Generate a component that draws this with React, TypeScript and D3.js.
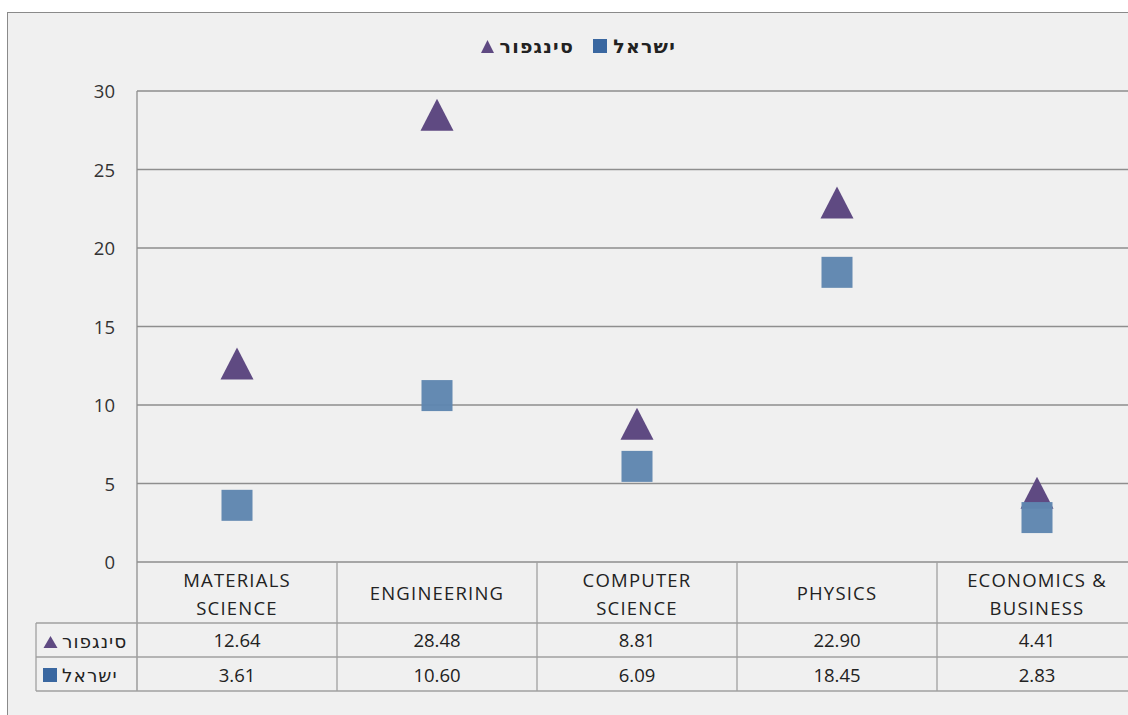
import React from "react";
import * as d3 from "d3";

const categories = [["MATERIALS", "SCIENCE"], ["ENGINEERING"], ["COMPUTER", "SCIENCE"], ["PHYSICS"], ["ECONOMICS &", "BUSINESS"]];
const categoryKeys = ["MATERIALS SCIENCE", "ENGINEERING", "COMPUTER SCIENCE", "PHYSICS", "ECONOMICS & BUSINESS"];
const singaporeName = "סינגפור";
const israelName = "ישראל";
const singaporeValues = [12.64, 28.48, 8.81, 22.9, 4.41];
const israelValues = [3.61, 10.6, 6.09, 18.45, 2.83];
const yTicks = [0, 5, 10, 15, 20, 25, 30];

const W = 1128, H = 715;
const plotL = 137, plotR = 1137, plotT = 91, plotB = 562;
const row1 = 623, row2 = 657, row3 = 691, tableL = 36;
const triColor = "#5f4a82";
const sqColor = "#5f86b0";
const legendSq = "#3a67a0";
const gridColor = "#8e8e8e";
const tableLine = "#a0a0a0";
const font = "'Open Sans', 'Noto Sans', sans-serif";
const hebFont = "'DejaVu Sans', 'Liberation Sans', sans-serif";
const fs = 18.5;

function triPath(cx: number, cy: number, w: number, h: number) {
  const p = d3.path();
  p.moveTo(cx, cy - h / 2);
  p.lineTo(cx + w / 2, cy + h / 2);
  p.lineTo(cx - w / 2, cy + h / 2);
  p.closePath();
  return p.toString();
}

export default function App() {
  const y = d3.scaleLinear().domain([0, 30]).range([plotB, plotT]);
  const x = d3.scaleBand<string>().domain(categoryKeys).range([plotL, plotR]).padding(0);
  const bw = x.bandwidth();
  const cx = (i: number) => (x(categoryKeys[i]) as number) + bw / 2;

  return (
    <svg width={W} height={H} style={{ position: "absolute", left: 0, top: 0, fontFamily: font }}>
      <rect x={0} y={0} width={W} height={H} fill="#ffffff" />
      <rect x={7.5} y={12.5} width={W + 10} height={H + 10} fill="#f0f0f0" stroke="#8a8a8a" strokeWidth={1} />

      {/* legend */}
      <g fontFamily={hebFont} fontWeight="bold" fontSize={19} fill="#222" letterSpacing={1.2}>
        <path d={triPath(487.5, 46.5, 13, 13)} fill={triColor} />
        <text x={574} y={53} textAnchor="end">{singaporeName}</text>
        <rect x={593} y={39} width={14} height={14} fill={legendSq} />
        <text x={676} y={53} textAnchor="end">{israelName}</text>
      </g>

      {/* grid */}
      {yTicks.map((t) => (
        <g key={t}>
          <line x1={plotL} x2={plotR} y1={y(t)} y2={y(t)} stroke={gridColor} strokeWidth={1.3} />
          <text x={115} y={y(t) + 7} textAnchor="end" fontSize={fs} fill="#333">{t}</text>
        </g>
      ))}
      <line x1={plotL} x2={plotL} y1={plotT} y2={row3} stroke={gridColor} strokeWidth={1.3} />

      {/* table */}
      {[row1, row2, row3].map((ry) => (
        <line key={ry} x1={tableL} x2={plotR} y1={ry} y2={ry} stroke={tableLine} strokeWidth={1.3} />
      ))}
      <line x1={tableL} x2={tableL} y1={row1} y2={row3} stroke={tableLine} strokeWidth={1.3} />
      {categoryKeys.map((k) => (
        <line key={k} x1={(x(k) as number) + bw} x2={(x(k) as number) + bw} y1={plotB} y2={row3} stroke={tableLine} strokeWidth={1.3} />
      ))}
      {categories.map((lines, i) => (
        <text key={i} textAnchor="middle" fontSize={fs} fill="#222" letterSpacing={1.2}>
          {lines.map((l, j) => (
            <tspan key={j} x={cx(i)} y={lines.length === 1 ? 600 : 587 + j * 28}>{l}</tspan>
          ))}
        </text>
      ))}
      {singaporeValues.map((v, i) => (
        <text key={"s" + i} x={cx(i)} y={647} textAnchor="middle" fontSize={fs} fill="#222">{v.toFixed(2)}</text>
      ))}
      {israelValues.map((v, i) => (
        <text key={"i" + i} x={cx(i)} y={682} textAnchor="middle" fontSize={fs} fill="#222">{v.toFixed(2)}</text>
      ))}
      <g fontFamily={hebFont} fontSize={18.5} fill="#222" letterSpacing={1}>
        <path d={triPath(50.5, 642, 14, 12)} fill={triColor} />
        <text x={62} y={648}>{singaporeName}</text>
        <rect x={43} y={668} width={14} height={14} fill={legendSq} />
        <text x={62} y={682}>{israelName}</text>
      </g>

      {/* markers */}
      {singaporeValues.map((v, i) => (
        <path key={"t" + i} d={triPath(cx(i), y(v), 33, 32)} fill={triColor} />
      ))}
      {israelValues.map((v, i) => (
        <rect key={"q" + i} x={cx(i) - 15.5} y={y(v) - 15.5} width={31} height={31} fill={sqColor} fillOpacity={0.97} />
      ))}
    </svg>
  );
}
